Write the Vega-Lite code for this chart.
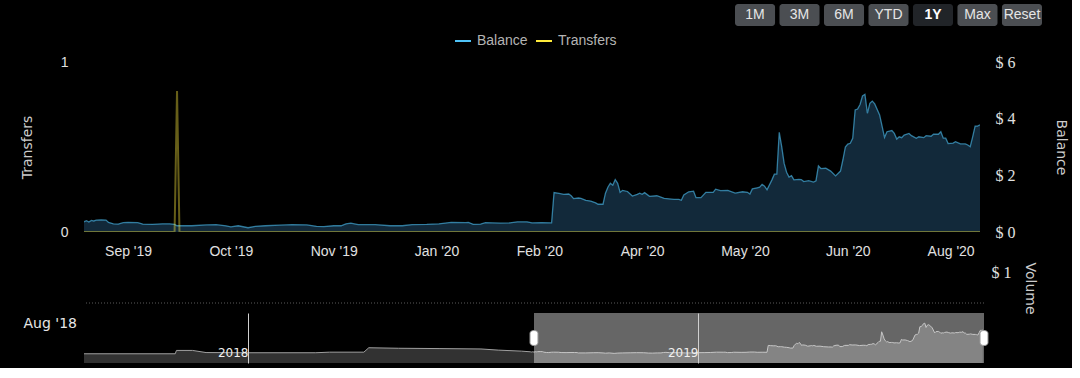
{
  "$schema": "https://vega.github.io/schema/vega-lite/v6.json",
  "background": "#000000",
  "padding": {"left": 20, "top": 4, "right": 5, "bottom": 5},
  "spacing": 0,
  "bounds": "flush",
  "config": {
    "view": {"stroke": null},
    "axis": {"grid": false, "domain": false, "ticks": false, "tickSize": 0, "labelColor": "#e0e0e0", "titleColor": "#cccccc", "titleFontWeight": "normal", "labelFont": "Liberation Sans", "titleFont": "DejaVu Sans", "labelFontSize": 14, "titleFontSize": 14}
  },
  "datasets": {
    "bal": [
      {"date": "2018-08-20", "balance": 0.09}, {"date": "2018-11-02", "balance": 0.09}, {"date": "2018-11-03", "balance": 0.61}, {"date": "2018-11-16", "balance": 0.61}, {"date": "2018-11-27", "balance": 0.28}, {"date": "2018-12-31", "balance": 0.25}, {"date": "2019-02-24", "balance": 0.25}, {"date": "2019-03-07", "balance": 0.34}, {"date": "2019-04-04", "balance": 0.34}, {"date": "2019-04-08", "balance": 1.03}, {"date": "2019-05-02", "balance": 0.95}, {"date": "2019-06-04", "balance": 0.9}, {"date": "2019-07-08", "balance": 0.84}, {"date": "2019-07-22", "balance": 0.66}, {"date": "2019-08-10", "balance": 0.5}, {"date": "2019-08-17", "balance": 0.4},
      {"date": "2019-08-18", "balance": 0.36}, {"date": "2019-08-19", "balance": 0.40}, {"date": "2019-08-20", "balance": 0.35}, {"date": "2019-08-21", "balance": 0.41}, {"date": "2019-08-22", "balance": 0.39}, {"date": "2019-08-23", "balance": 0.42}, {"date": "2019-08-25", "balance": 0.43}, {"date": "2019-08-27", "balance": 0.42}, {"date": "2019-08-28", "balance": 0.34}, {"date": "2019-08-30", "balance": 0.29},
      {"date": "2019-09-01", "balance": 0.28}, {"date": "2019-09-03", "balance": 0.33}, {"date": "2019-09-05", "balance": 0.34}, {"date": "2019-09-09", "balance": 0.33}, {"date": "2019-09-11", "balance": 0.28}, {"date": "2019-09-15", "balance": 0.27}, {"date": "2019-09-19", "balance": 0.29}, {"date": "2019-09-22", "balance": 0.29}, {"date": "2019-09-24", "balance": 0.27}, {"date": "2019-09-25", "balance": 0.22},
      {"date": "2019-10-01", "balance": 0.22}, {"date": "2019-10-07", "balance": 0.25}, {"date": "2019-10-11", "balance": 0.26}, {"date": "2019-10-15", "balance": 0.22}, {"date": "2019-10-17", "balance": 0.18}, {"date": "2019-10-20", "balance": 0.22}, {"date": "2019-10-24", "balance": 0.15}, {"date": "2019-10-27", "balance": 0.20}, {"date": "2019-10-31", "balance": 0.22},
      {"date": "2019-11-06", "balance": 0.24}, {"date": "2019-11-11", "balance": 0.26}, {"date": "2019-11-17", "balance": 0.25}, {"date": "2019-11-21", "balance": 0.20}, {"date": "2019-11-24", "balance": 0.19}, {"date": "2019-11-28", "balance": 0.22},
      {"date": "2019-12-01", "balance": 0.22}, {"date": "2019-12-03", "balance": 0.29}, {"date": "2019-12-05", "balance": 0.31}, {"date": "2019-12-08", "balance": 0.26}, {"date": "2019-12-15", "balance": 0.26}, {"date": "2019-12-21", "balance": 0.22}, {"date": "2019-12-26", "balance": 0.22}, {"date": "2019-12-30", "balance": 0.26},
      {"date": "2020-01-05", "balance": 0.27}, {"date": "2020-01-10", "balance": 0.29}, {"date": "2020-01-15", "balance": 0.34}, {"date": "2020-01-21", "balance": 0.33}, {"date": "2020-01-22", "balance": 0.34}, {"date": "2020-01-24", "balance": 0.27}, {"date": "2020-01-27", "balance": 0.28}, {"date": "2020-01-29", "balance": 0.33},
      {"date": "2020-02-04", "balance": 0.31}, {"date": "2020-02-08", "balance": 0.32}, {"date": "2020-02-11", "balance": 0.36}, {"date": "2020-02-15", "balance": 0.36}, {"date": "2020-02-17", "balance": 0.32}, {"date": "2020-02-21", "balance": 0.33}, {"date": "2020-02-25", "balance": 0.32}, {"date": "2020-02-26", "balance": 1.39}, {"date": "2020-02-28", "balance": 1.36},
      {"date": "2020-03-01", "balance": 1.33}, {"date": "2020-03-03", "balance": 1.34}, {"date": "2020-03-04", "balance": 1.28}, {"date": "2020-03-05", "balance": 1.18}, {"date": "2020-03-07", "balance": 1.20}, {"date": "2020-03-08", "balance": 1.19}, {"date": "2020-03-10", "balance": 1.12}, {"date": "2020-03-12", "balance": 1.09}, {"date": "2020-03-14", "balance": 1.03}, {"date": "2020-03-15", "balance": 0.98}, {"date": "2020-03-17", "balance": 0.98}, {"date": "2020-03-18", "balance": 1.37}, {"date": "2020-03-19", "balance": 1.58}, {"date": "2020-03-20", "balance": 1.72}, {"date": "2020-03-21", "balance": 1.65}, {"date": "2020-03-22", "balance": 1.85}, {"date": "2020-03-23", "balance": 1.72}, {"date": "2020-03-24", "balance": 1.40}, {"date": "2020-03-25", "balance": 1.47}, {"date": "2020-03-27", "balance": 1.43}, {"date": "2020-03-29", "balance": 1.27}, {"date": "2020-03-31", "balance": 1.33},
      {"date": "2020-04-01", "balance": 1.37}, {"date": "2020-04-02", "balance": 1.33}, {"date": "2020-04-03", "balance": 1.39}, {"date": "2020-04-05", "balance": 1.26}, {"date": "2020-04-08", "balance": 1.28}, {"date": "2020-04-11", "balance": 1.19}, {"date": "2020-04-15", "balance": 1.15}, {"date": "2020-04-17", "balance": 1.15}, {"date": "2020-04-18", "balance": 1.12}, {"date": "2020-04-19", "balance": 1.31}, {"date": "2020-04-21", "balance": 1.42}, {"date": "2020-04-23", "balance": 1.44}, {"date": "2020-04-24", "balance": 1.21}, {"date": "2020-04-26", "balance": 1.21}, {"date": "2020-04-28", "balance": 1.40},
      {"date": "2020-05-01", "balance": 1.40}, {"date": "2020-05-02", "balance": 1.51}, {"date": "2020-05-04", "balance": 1.46}, {"date": "2020-05-07", "balance": 1.47}, {"date": "2020-05-10", "balance": 1.37}, {"date": "2020-05-13", "balance": 1.42}, {"date": "2020-05-15", "balance": 1.40}, {"date": "2020-05-16", "balance": 1.34}, {"date": "2020-05-17", "balance": 1.52}, {"date": "2020-05-19", "balance": 1.56}, {"date": "2020-05-20", "balance": 1.58}, {"date": "2020-05-21", "balance": 1.68}, {"date": "2020-05-22", "balance": 1.62}, {"date": "2020-05-23", "balance": 1.49}, {"date": "2020-05-25", "balance": 1.84}, {"date": "2020-05-26", "balance": 2.04}, {"date": "2020-05-27", "balance": 2.04}, {"date": "2020-05-28", "balance": 3.52}, {"date": "2020-05-29", "balance": 3.01}, {"date": "2020-05-30", "balance": 2.42}, {"date": "2020-05-31", "balance": 2.11},
      {"date": "2020-06-01", "balance": 1.94}, {"date": "2020-06-02", "balance": 1.99}, {"date": "2020-06-03", "balance": 1.84}, {"date": "2020-06-05", "balance": 1.86}, {"date": "2020-06-06", "balance": 1.85}, {"date": "2020-06-07", "balance": 1.78}, {"date": "2020-06-09", "balance": 1.81}, {"date": "2020-06-11", "balance": 1.76}, {"date": "2020-06-12", "balance": 1.81}, {"date": "2020-06-13", "balance": 2.33}, {"date": "2020-06-14", "balance": 2.24}, {"date": "2020-06-16", "balance": 2.25}, {"date": "2020-06-18", "balance": 2.15}, {"date": "2020-06-20", "balance": 1.98}, {"date": "2020-06-22", "balance": 2.15}, {"date": "2020-06-23", "balance": 2.55}, {"date": "2020-06-24", "balance": 3.0}, {"date": "2020-06-25", "balance": 3.10}, {"date": "2020-06-26", "balance": 3.13}, {"date": "2020-06-27", "balance": 3.31}, {"date": "2020-06-28", "balance": 4.31}, {"date": "2020-06-29", "balance": 4.34}, {"date": "2020-06-30", "balance": 4.50},
      {"date": "2020-07-01", "balance": 4.80}, {"date": "2020-07-02", "balance": 4.86}, {"date": "2020-07-03", "balance": 4.19}, {"date": "2020-07-04", "balance": 4.54}, {"date": "2020-07-05", "balance": 4.62}, {"date": "2020-07-06", "balance": 4.52}, {"date": "2020-07-08", "balance": 4.13}, {"date": "2020-07-10", "balance": 3.34}, {"date": "2020-07-11", "balance": 3.54}, {"date": "2020-07-13", "balance": 3.58}, {"date": "2020-07-14", "balance": 3.48}, {"date": "2020-07-15", "balance": 3.28}, {"date": "2020-07-16", "balance": 3.36}, {"date": "2020-07-17", "balance": 3.33}, {"date": "2020-07-18", "balance": 3.42}, {"date": "2020-07-20", "balance": 3.48}, {"date": "2020-07-21", "balance": 3.40}, {"date": "2020-07-23", "balance": 3.31}, {"date": "2020-07-24", "balance": 3.36}, {"date": "2020-07-26", "balance": 3.33}, {"date": "2020-07-27", "balance": 3.40}, {"date": "2020-07-29", "balance": 3.38}, {"date": "2020-07-30", "balance": 3.45},
      {"date": "2020-08-01", "balance": 3.45}, {"date": "2020-08-02", "balance": 3.54}, {"date": "2020-08-03", "balance": 3.31}, {"date": "2020-08-04", "balance": 3.31}, {"date": "2020-08-05", "balance": 3.12}, {"date": "2020-08-07", "balance": 3.14}, {"date": "2020-08-08", "balance": 3.19}, {"date": "2020-08-10", "balance": 3.11}, {"date": "2020-08-12", "balance": 3.11}, {"date": "2020-08-13", "balance": 3.07}, {"date": "2020-08-14", "balance": 3.01}, {"date": "2020-08-15", "balance": 3.36}, {"date": "2020-08-16", "balance": 3.74}, {"date": "2020-08-17", "balance": 3.74}, {"date": "2020-08-18", "balance": 3.78}
    ],
    "tr": [
      {"date": "2019-08-18", "transfers": 0}, {"date": "2019-09-24", "transfers": 0}, {"date": "2019-09-25", "transfers": 0.83}, {"date": "2019-09-26", "transfers": 0}, {"date": "2020-08-18", "transfers": 0}
    ]
  },
  "vconcat": [
    {
      "width": 958, "height": 22,
      "data": {"values": [{"label": "1M"}, {"label": "3M"}, {"label": "6M"}, {"label": "YTD"}, {"label": "1Y"}, {"label": "Max"}, {"label": "Reset"}]},
      "encoding": {"x": {"field": "label", "type": "nominal", "sort": null, "scale": {"range": [651, 958], "paddingInner": 0.1, "paddingOuter": 0}, "axis": null}},
      "layer": [
        {"mark": {"type": "bar", "cornerRadius": 3}, "encoding": {"color": {"condition": {"test": "datum.label === '1Y'", "value": "#212428"}, "value": "#4b4e52"}}},
        {"transform": [{"filter": "datum.label !== '1Y'"}], "mark": {"type": "text", "font": "Liberation Sans", "fontSize": 14, "color": "#e6e6e6"}, "encoding": {"text": {"field": "label"}}},
        {"transform": [{"filter": "datum.label === '1Y'"}], "mark": {"type": "text", "font": "Liberation Sans", "fontSize": 14, "fontWeight": "bold", "color": "#ffffff"}, "encoding": {"text": {"field": "label"}}}
      ]
    },
    {"width": 10, "height": 36, "data": {"values": []}, "mark": "point", "encoding": {}},
    {
      "width": 896, "height": 170,
      "layer": [
        {
          "data": {"name": "bal"},
          "mark": {"type": "area", "color": "#12293a", "clip": true},
          "encoding": {
            "x": {"field": "date", "type": "temporal", "scale": {"domain": [{"year": 2019, "month": 8, "date": 18}, {"year": 2020, "month": 8, "date": 18}]}, "axis": {"values": [{"year": 2019, "month": 9, "date": 5}, {"year": 2019, "month": 10, "date": 17}, {"year": 2019, "month": 11, "date": 28}, {"year": 2020, "month": 1, "date": 9}, {"year": 2020, "month": 2, "date": 20}, {"year": 2020, "month": 4, "date": 2}, {"year": 2020, "month": 5, "date": 14}, {"year": 2020, "month": 6, "date": 25}, {"year": 2020, "month": 8, "date": 6}], "format": "%b '%y", "labelPadding": 12, "labelFlush": false, "labelOverlap": false, "title": null}},
            "y": {"field": "balance", "type": "quantitative", "scale": {"domain": [0, 6]}, "axis": {"orient": "right", "values": [0, 2, 4, 6], "labelExpr": "'$ ' + datum.value", "labelFont": "Liberation Serif", "labelFontSize": 16, "labelPadding": 15, "title": "Balance", "titleAngle": 90, "titleX": 80, "titleY": 85, "titleAlign": "center", "titleBaseline": "middle"}}
          }
        },
        {
          "data": {"name": "bal"},
          "mark": {"type": "line", "strokeWidth": 1.3, "opacity": 0.6, "clip": true},
          "encoding": {
            "x": {"field": "date", "type": "temporal", "scale": {"domain": [{"year": 2019, "month": 8, "date": 18}, {"year": 2020, "month": 8, "date": 18}]}, "axis": {"values": [{"year": 2019, "month": 9, "date": 5}, {"year": 2019, "month": 10, "date": 17}, {"year": 2019, "month": 11, "date": 28}, {"year": 2020, "month": 1, "date": 9}, {"year": 2020, "month": 2, "date": 20}, {"year": 2020, "month": 4, "date": 2}, {"year": 2020, "month": 5, "date": 14}, {"year": 2020, "month": 6, "date": 25}, {"year": 2020, "month": 8, "date": 6}], "format": "%b '%y", "labelPadding": 12, "labelFlush": false, "labelOverlap": false, "title": null}},
            "y": {"field": "balance", "type": "quantitative", "scale": {"domain": [0, 6]}, "axis": null},
            "color": {"datum": "Balance", "scale": {"domain": ["Balance", "Transfers"], "range": ["#4fc3f7", "#ffeb3b"]}, "legend": {"orient": "none", "legendX": 370, "legendY": 28, "direction": "horizontal", "title": null, "symbolType": "stroke", "symbolSize": 256, "symbolStrokeWidth": 2, "symbolOpacity": 1, "labelFont": "Liberation Sans", "labelFontSize": 14, "labelColor": "#b4b4b4", "labelOffset": 5, "columnPadding": 4, "padding": 0, "encode": {"symbols": {"update": {"opacity": {"value": 1}, "strokeOpacity": {"value": 1}}}}}}
          }
        },
        {
          "data": {"name": "tr"},
          "mark": {"type": "line", "strokeWidth": 2, "opacity": 0.4, "clip": true},
          "encoding": {
            "x": {"field": "date", "type": "temporal", "scale": {"domain": [{"year": 2019, "month": 8, "date": 18}, {"year": 2020, "month": 8, "date": 18}]}, "axis": {"values": [{"year": 2019, "month": 9, "date": 5}, {"year": 2019, "month": 10, "date": 17}, {"year": 2019, "month": 11, "date": 28}, {"year": 2020, "month": 1, "date": 9}, {"year": 2020, "month": 2, "date": 20}, {"year": 2020, "month": 4, "date": 2}, {"year": 2020, "month": 5, "date": 14}, {"year": 2020, "month": 6, "date": 25}, {"year": 2020, "month": 8, "date": 6}], "format": "%b '%y", "labelPadding": 12, "labelFlush": false, "labelOverlap": false, "title": null}},
            "y": {"field": "transfers", "type": "quantitative", "scale": {"domain": [0, 1]}, "axis": {"orient": "left", "values": [0, 1], "format": "d", "labelPadding": 16, "title": "Transfers", "titleAngle": 270, "titleX": -56.5, "titleY": 85, "titleAlign": "center", "titleBaseline": "middle"}},
            "color": {"datum": "Transfers"}
          }
        }
      ],
      "resolve": {"scale": {"y": "independent"}}
    },
    {"width": 10, "height": 40, "data": {"values": []}, "mark": "point", "encoding": {}},
    {
      "width": 900, "height": 31,
      "data": {"values": [{"v": 0}]},
      "mark": {"type": "rule", "color": "#5a5a5a", "strokeDash": [1, 2], "strokeWidth": 1},
      "encoding": {"y": {"field": "v", "type": "quantitative", "scale": {"domain": [0, 1]}, "axis": {"orient": "right", "values": [1], "labelExpr": "'$ ' + datum.value", "labelFont": "Liberation Serif", "labelFontSize": 16, "labelPadding": 7, "title": "Volume", "titleAngle": 90, "titleX": 45, "titleY": 16, "titleAlign": "center", "titleBaseline": "middle"}}}
    },
    {"width": 10, "height": 10, "data": {"values": []}, "mark": "point", "encoding": {}},
    {
      "width": 900, "height": 50,
      "layer": [
        {
          "data": {"name": "bal"},
          "mark": {"type": "area", "color": "#474747", "clip": true, "line": {"color": "#a0a0a0", "strokeWidth": 1}},
          "encoding": {
            "x": {"field": "date", "type": "temporal", "scale": {"domain": [{"year": 2018, "month": 8, "date": 20}, {"year": 2020, "month": 8, "date": 19}]}, "axis": {"values": [{"year": 2018, "month": 12, "date": 31}, {"year": 2019, "month": 12, "date": 31}], "format": "%Y", "grid": true, "gridColor": "#d0d0d0", "labelAlign": "right", "labelBaseline": "middle", "labelDx": -5, "labelPadding": -11, "labelFont": "DejaVu Sans", "labelFontSize": 12, "labelColor": "#f0f0f0", "labelFlush": false, "title": null, "zindex": 1}},
            "y": {"field": "balance", "type": "quantitative", "scale": {"domain": [-1.35, 6.45], "nice": false, "zero": false}, "axis": {"orient": "left", "labels": false, "title": "Aug '18", "titleAngle": 0, "titleAlign": "right", "titleBaseline": "middle", "titleX": -7.5, "titleY": 10, "titleColor": "#e6e6e6"}},
            "y2": {"datum": -1.35}
          }
        },
        {
          "data": {"values": [{"start": "2019-08-20", "end": "2020-08-19"}]},
          "mark": {"type": "rect", "color": "#ffffff", "opacity": 0.4},
          "encoding": {
            "x": {"field": "start", "type": "temporal", "axis": {"values": [{"year": 2018, "month": 12, "date": 31}, {"year": 2019, "month": 12, "date": 31}], "format": "%Y", "grid": true, "gridColor": "#d0d0d0", "labelAlign": "right", "labelBaseline": "middle", "labelDx": -5, "labelPadding": -11, "labelFont": "DejaVu Sans", "labelFontSize": 12, "labelColor": "#f0f0f0", "labelFlush": false, "title": null, "zindex": 1}},
            "x2": {"field": "end"},
            "y": {"datum": 6.45},
            "y2": {"datum": -1.35}
          }
        },
        {
          "data": {"values": [{"date": "2019-08-20"}, {"date": "2020-08-19"}]},
          "mark": {"type": "point", "shape": "M-0.53,-0.65 A0.53,0.35 0 0 1 0.53,-0.65 L0.53,0.65 A0.53,0.35 0 0 1 -0.53,0.65 Z", "size": 225, "filled": true, "fill": "#ffffff", "stroke": "#999999", "strokeWidth": 1, "opacity": 1},
          "encoding": {
            "x": {"field": "date", "type": "temporal", "axis": {"values": [{"year": 2018, "month": 12, "date": 31}, {"year": 2019, "month": 12, "date": 31}], "format": "%Y", "grid": true, "gridColor": "#d0d0d0", "labelAlign": "right", "labelBaseline": "middle", "labelDx": -5, "labelPadding": -11, "labelFont": "DejaVu Sans", "labelFontSize": 12, "labelColor": "#f0f0f0", "labelFlush": false, "title": null, "zindex": 1}}
          }
        }
      ]
    }
  ]
}
